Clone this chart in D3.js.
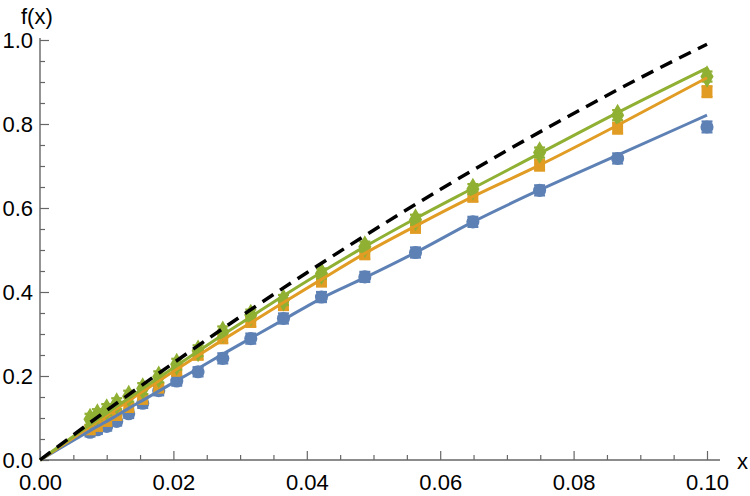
<!DOCTYPE html>
<html>
<head>
<meta charset="utf-8">
<script src="https://cdn.jsdelivr.net/npm/d3@7"></script>
<style>
  body { margin: 0; background: #fff; }
</style>
</head>
<body>
<div id="chart"></div>
<script>
// sample positions shared by the three data series
var xs = [0.0075, 0.0086, 0.0100, 0.0115, 0.0133, 0.0154, 0.0178, 0.0205, 0.0237, 0.0274,
          0.0316, 0.0365, 0.0422, 0.0487, 0.0563, 0.0649, 0.0749, 0.0866, 0.1000];

var bluePts   = [0.066, 0.072, 0.080, 0.092, 0.110, 0.135, 0.165, 0.188, 0.210, 0.242,
                 0.289, 0.337, 0.388, 0.436, 0.494, 0.567, 0.642, 0.718, 0.793];
var orangePts = [0.072, 0.080, 0.092, 0.106, 0.125, 0.145, 0.172, 0.212, 0.250, 0.290,
                 0.329, 0.369, 0.425, 0.490, 0.553, 0.627, 0.702, 0.790, 0.877];
var greenPts  = [0.097, 0.108, 0.120, 0.134, 0.152, 0.170, 0.198, 0.228, 0.260, 0.305,
                 0.345, 0.381, 0.444, 0.508, 0.572, 0.645, 0.732, 0.821, 0.913];

// error bar half-widths
var blueErr   = [0.010, 0.010, 0.010, 0.010, 0.010, 0.011, 0.011, 0.011, 0.011, 0.012,
                 0.012, 0.012, 0.012, 0.012, 0.012, 0.012, 0.012, 0.012, 0.013];
var orangeErr = [0.010, 0.010, 0.010, 0.010, 0.010, 0.011, 0.011, 0.011, 0.011, 0.012,
                 0.012, 0.012, 0.012, 0.012, 0.012, 0.012, 0.013, 0.013, 0.013];
var greenErr  = [0.013, 0.013, 0.013, 0.013, 0.013, 0.013, 0.013, 0.013, 0.013, 0.013,
                 0.013, 0.012, 0.012, 0.012, 0.012, 0.012, 0.012, 0.012, 0.012];

// fitted curves (solid lines), starting at the origin
var lineXs     = [0].concat(xs);
var blueLine   = [0, 0.070, 0.080, 0.092, 0.106, 0.123, 0.142, 0.164, 0.189, 0.218, 0.252,
                  0.290, 0.334, 0.385, 0.434, 0.494, 0.567, 0.643, 0.726, 0.821];
var orangeLine = [0, 0.080, 0.092, 0.106, 0.122, 0.141, 0.163, 0.188, 0.216, 0.249, 0.286,
                  0.327, 0.375, 0.430, 0.492, 0.557, 0.627, 0.702, 0.797, 0.910];
var greenLine  = [0, 0.084, 0.096, 0.111, 0.128, 0.147, 0.170, 0.196, 0.225, 0.259, 0.298,
                  0.341, 0.391, 0.447, 0.508, 0.575, 0.647, 0.730, 0.827, 0.933];

// reference curve (dashed)
var refXs = [0, 0.01, 0.02, 0.03, 0.04, 0.05, 0.06, 0.07, 0.08, 0.09, 0.10];
var refYs = [0, 0.118, 0.231, 0.341, 0.446, 0.547, 0.644, 0.737, 0.825, 0.910, 0.990];

var xMajor = [0, 0.02, 0.04, 0.06, 0.08, 0.10];
var yMajor = [0, 0.2, 0.4, 0.6, 0.8, 1.0];

var width = 750, height = 496;
var font = "'Liberation Sans', Arial, sans-serif";

var x = d3.scaleLinear().domain([0, 0.1]).range([40, 707]);
var y = d3.scaleLinear().domain([0, 1]).range([460, 40]);

var svg = d3.select("#chart").append("svg")
  .attr("width", width)
  .attr("height", height);

// minor ticks
var xMinor = d3.range(0, 0.1001, 0.005).filter(function(v) {
  return xMajor.every(function(m) { return Math.abs(m - v) > 1e-9; });
});
var yMinor = d3.range(0, 1.001, 0.05).filter(function(v) {
  return yMajor.every(function(m) { return Math.abs(m - v) > 1e-9; });
});

var axisColor = "#666";

var gx = svg.append("g").attr("transform", "translate(0," + y(0) + ")");
gx.call(d3.axisBottom(x).tickValues(xMajor).tickSize(-9).tickPadding(14)
  .tickFormat(d3.format(".2f")));
gx.append("g").call(d3.axisBottom(x).tickValues(xMinor).tickSize(-5).tickFormat(""));

var gy = svg.append("g").attr("transform", "translate(" + x(0) + ",0)");
gy.call(d3.axisLeft(y).tickValues(yMajor).tickSize(-9).tickPadding(7)
  .tickFormat(d3.format(".1f")));
gy.append("g").call(d3.axisLeft(y).tickValues(yMinor).tickSize(-5).tickFormat(""));

svg.selectAll(".domain").remove();
svg.selectAll(".tick line").attr("stroke", axisColor).attr("stroke-width", 1.2);
svg.selectAll(".tick text")
  .attr("fill", "#000")
  .attr("font-family", font)
  .attr("font-size", 22);

// axis lines
svg.append("line")
  .attr("x1", x(0)).attr("x2", 720)
  .attr("y1", y(0)).attr("y2", y(0))
  .attr("stroke", axisColor).attr("stroke-width", 1.4);
svg.append("line")
  .attr("x1", x(0)).attr("x2", x(0))
  .attr("y1", y(0)).attr("y2", 38)
  .attr("stroke", axisColor).attr("stroke-width", 1.4);

// axis labels
svg.append("text")
  .attr("x", 737).attr("y", 469)
  .attr("font-family", font).attr("font-size", 22)
  .text("x");
svg.append("text")
  .attr("x", 21).attr("y", 24)
  .attr("font-family", font).attr("font-size", 22)
  .text("f(x)");

var series = [
  { color: "#5E81B5", pts: bluePts,   err: blueErr,   line: blueLine,   shape: "circle" },
  { color: "#E19C24", pts: orangePts, err: orangeErr, line: orangeLine, shape: "square" },
  { color: "#8FB032", pts: greenPts,  err: greenErr,  line: greenLine,  shape: "diamond" }
];

var symbols = {
  circle: d3.symbol().type(d3.symbolCircle).size(135),
  square: d3.symbol().type(d3.symbolSquare).size(120),
  diamond: d3.symbol().type(d3.symbolDiamond).size(150)
};

// markers with error bars
series.forEach(function(s) {
  var g = svg.append("g");
  var data = xs.map(function(v, i) { return { x: v, y: s.pts[i], e: s.err[i] }; });

  g.selectAll("line.bar")
    .data(data)
    .enter().append("line")
    .attr("x1", function(d) { return x(d.x); })
    .attr("x2", function(d) { return x(d.x); })
    .attr("y1", function(d) { return y(d.y - d.e); })
    .attr("y2", function(d) { return y(d.y + d.e); })
    .attr("stroke", s.color).attr("stroke-width", 2);

  [-1, 1].forEach(function(sign) {
    g.selectAll("line.cap" + sign)
      .data(data)
      .enter().append("line")
      .attr("x1", function(d) { return x(d.x) - 5.5; })
      .attr("x2", function(d) { return x(d.x) + 5.5; })
      .attr("y1", function(d) { return y(d.y + sign * d.e); })
      .attr("y2", function(d) { return y(d.y + sign * d.e); })
      .attr("stroke", s.color).attr("stroke-width", 2.2);
  });

  g.selectAll("path")
    .data(data)
    .enter().append("path")
    .attr("d", symbols[s.shape])
    .attr("transform", function(d) { return "translate(" + x(d.x) + "," + y(d.y) + ")"; })
    .attr("fill", s.color);
});

// fitted lines
var line = d3.line()
  .x(function(d) { return x(d[0]); })
  .y(function(d) { return y(d[1]); })
  .curve(d3.curveMonotoneX);

series.forEach(function(s) {
  svg.append("path")
    .datum(lineXs.map(function(v, i) { return [v, s.line[i]]; }))
    .attr("d", line)
    .attr("fill", "none")
    .attr("stroke", s.color)
    .attr("stroke-width", 3);
});

// dashed reference curve
svg.append("path")
  .datum(refXs.map(function(v, i) { return [v, refYs[i]]; }))
  .attr("d", line)
  .attr("fill", "none")
  .attr("stroke", "#000")
  .attr("stroke-width", 3.5)
  .attr("stroke-dasharray", "13,8");
</script>
</body>
</html>
